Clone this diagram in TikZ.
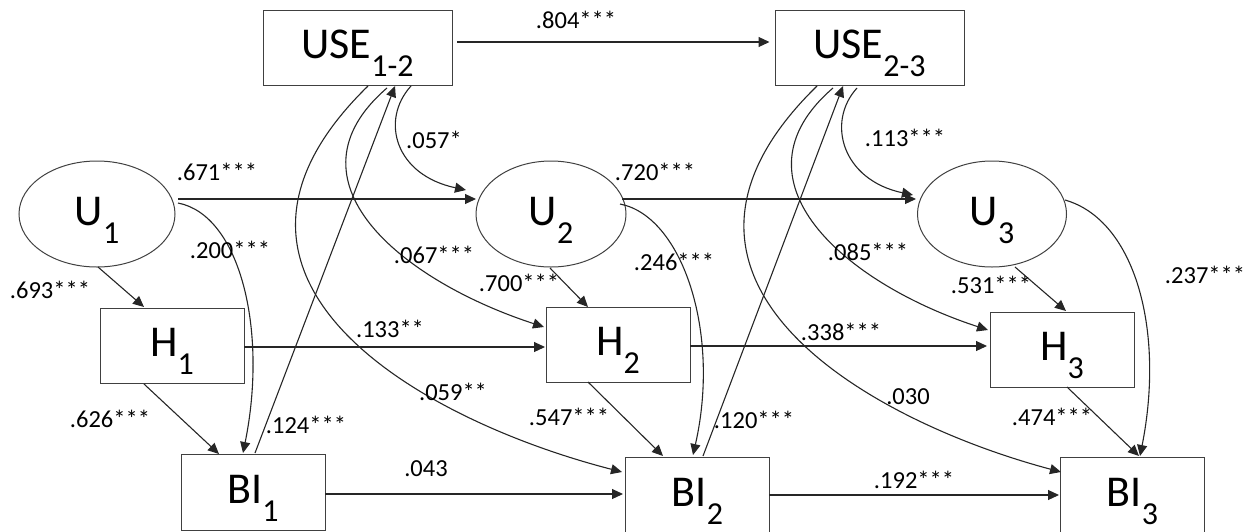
\documentclass[tikz,border=0pt]{standalone}
\usepackage{fontspec}
\setmainfont{Carlito}
\usetikzlibrary{arrows.meta,calc,shapes.geometric}
\newcommand\mysub[1]{\raisebox{-18pt}{\fontsize{32pt}{32pt}\selectfont #1}}
\begin{document}
\begin{tikzpicture}[x=1pt,y=-1pt,
  big/.style={font=\fontsize{44pt}{44pt}\selectfont, text height=41pt, text depth=19pt, inner sep=0pt},
  box/.style={big, draw=black!75, line width=1pt, rectangle, minimum width=144pt, minimum height=75pt},
  oval/.style={big, draw=black!75, line width=1pt, ellipse, minimum height=106pt},
  conn/.style={draw=black!85, line width=1.1pt, -{Triangle[length=11pt,width=10pt]}},
  lbl/.style={font=\fontsize{24.5pt}{24.5pt}\selectfont, inner sep=0pt}]
\useasboundingbox (0,0) rectangle (1260,531);

% nodes
\node[box, minimum width=189pt] (USE12) at (357.5,47.5) {USE\mysub{1-2}};
\node[box, minimum width=189pt] (USE23) at (869.5,47.5) {USE\mysub{2-3}};
\node[oval, minimum width=156pt] (U1) at (97,214) {U\mysub{1}};
\node[oval, minimum width=150pt] (U2) at (551,214) {U\mysub{2}};
\node[oval, minimum width=149pt] (U3) at (992,214) {U\mysub{3}};
\node[box] (H1) at (172,345.5) {H\mysub{1}};
\node[box] (H2) at (618,344.5) {H\mysub{2}};
\node[box] (H3) at (1062,349.5) {H\mysub{3}};
\node[box, minimum height=76pt] (BI1) at (253,492) {BI\mysub{1}};
\node[box, minimum height=76pt] (BI2) at (697.5,495) {BI\mysub{2}};
\node[box, minimum height=76pt] (BI3) at (1132.5,495) {BI\mysub{3}};

% horizontal paths
\draw[conn] ($(USE12)+(99.5,-5.5)$) -- ($(USE23)+(-100,-5.5)$);
\draw[conn] ($(U1)+(81,-15)$) -- ($(U2)+(-75,-15)$);
\draw[conn] ($(U2)+(71,-15)$) -- ($(U3)+(-76,-15)$);
\draw[conn] ($(H1)+(72,1.5)$) -- ($(H2)+(-73,2.5)$);
\draw[conn] ($(H2)+(72,1.5)$) -- ($(H3)+(-75,-3.5)$);
\draw[conn] ($(BI1)+(72,2)$) -- ($(BI2)+(-74.5,-1)$);
\draw[conn] ($(BI2)+(71.5,0)$) -- ($(BI3)+(-73.5,0)$);

% U -> H, H -> BI
\draw[conn] ($(U1)+(1,53)$) -- ($(H1)+(-28,-38.5)$);
\draw[conn] ($(H1)+(-28,38.5)$) -- ($(BI1)+(-34,-38)$);
\draw[conn] ($(U2)+(-1,54)$) -- ($(H2)+(-30,-37.5)$);
\draw[conn] ($(H2)+(-30,37.5)$) -- ($(BI2)+(-34.5,-39)$);
\draw[conn] ($(U3)+(23,53)$) -- ($(H3)+(4,-38.5)$);
\draw[conn] ($(H3)+(5,37.5)$) -- ($(BI3)+(6.5,-39)$);

% U -> BI curves
\draw[conn] ($(U1)+(81,-11)$) .. controls +(62,12) and +(25,-123) .. ($(BI1)+(-10,-39)$);
\draw[conn] ($(U2)+(69,-10)$) .. controls +(62,12) and +(28,-123) .. ($(BI2)+(-4.5,-40)$);
\draw[conn] ($(U3)+(73,-14)$) .. controls +(70,20) and +(25,-126) .. ($(BI3)+(7.5,-39)$);

% USE -> U curves
\draw[conn] ($(USE12)+(53.5,38.5)$) .. controls +(-31,34) and +(-71,-15) .. ($(U2)+(-85,-24)$);
\draw[conn] ($(USE23)+(-12.5,40.5)$) .. controls +(-31,34) and +(-71,-15) .. ($(U3)+(-79,-19)$);

% USE -> H curves
\draw[conn] ($(USE12)+(29.5,40.5)$) .. controls +(-107,92) and +(-144,-47) .. ($(H2)+(-74,-17.5)$);
\draw[conn] ($(USE23)+(-36.5,40.5)$) .. controls +(-107,92) and +(-144,-47) .. ($(H3)+(-74,-19.5)$);

% USE -> BI curves
\draw[conn] ($(USE12)+(10.5,38.5)$) .. controls +(-198,193) and +(-202,-52) .. ($(BI2)+(-75.5,-23)$);
\draw[conn] ($(USE23)+(-52.5,38.5)$) .. controls +(-198,193) and +(-195,-52) .. ($(BI3)+(-71.5,-23)$);

% BI -> USE straight
\draw[conn] ($(BI1)+(2,-39)$) -- ($(USE12)+(37.5,38.5)$);
\draw[conn] ($(BI2)+(5.5,-39)$) -- ($(USE23)+(-26.5,38.5)$);

% labels
\node[lbl] (l1) at (576,20) {.804***};
\node[lbl] (l2) at (217,172) {.671***};
\node[lbl] (l3) at (655,172) {.720***};
\node[lbl] (l4) at (390,329) {.133**};
\node[lbl] (l5) at (841,332) {.338***};
\node[lbl] (l6) at (426,469) {.043};
\node[lbl] (l7) at (914,480) {.192***};
\node[lbl] (l8) at (50,290) {.693***};
\node[lbl] (l9) at (110,419) {.626***};
\node[lbl] (l10) at (230,250) {.200***};
\node[lbl] (l11) at (519,283) {.700***};
\node[lbl] (l12) at (569,417) {.547***};
\node[lbl] (l13) at (674,262) {.246***};
\node[lbl] (l14) at (991,285) {.531***};
\node[lbl] (l15) at (1052,417) {.474***};
\node[lbl] (l16) at (1205,275) {.237***};
\node[lbl] (l17) at (434,140) {.057*};
\node[lbl] (l18) at (905,138) {.113***};
\node[lbl] (l19) at (434,255) {.067***};
\node[lbl] (l20) at (868,252) {.085***};
\node[lbl] (l21) at (453,392) {.059**};
\node[lbl] (l22) at (908,397) {.030};
\node[lbl] (l23) at (306,425) {.124***};
\node[lbl] (l24) at (754,420) {.120***};
\end{tikzpicture}
\end{document}
